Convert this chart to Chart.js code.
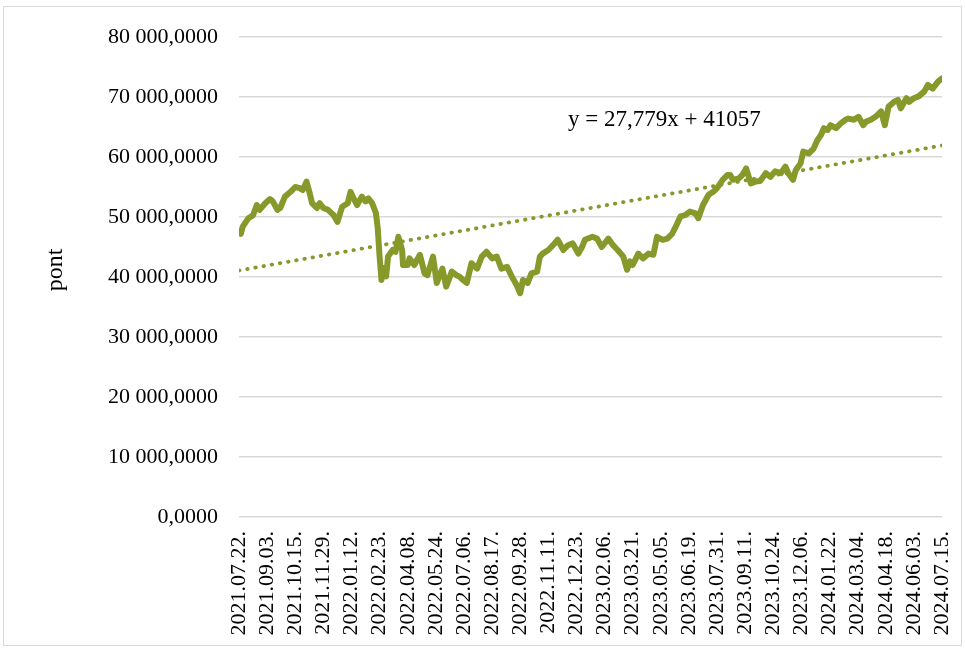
<!DOCTYPE html>
<html>
<head>
<meta charset="utf-8">
<script src="https://cdn.jsdelivr.net/npm/chart.js@4/dist/chart.umd.min.js"></script>
<style>
html,body{margin:0;padding:0;background:#fff;}
#wrap{position:relative;width:965px;height:651px;}
</style>
</head>
<body>
<div id="wrap"><canvas id="c" width="965" height="651"></canvas></div>
<script>
// Tick labels (every 30 trading days)
const tickLabels = ["2021.07.22.","2021.09.03.","2021.10.15.","2021.11.29.","2022.01.12.","2022.02.23.","2022.04.08.","2022.05.24.","2022.07.06.","2022.08.17.","2022.09.28.","2022.11.11.","2022.12.23.","2023.02.06.","2023.03.21.","2023.05.05.","2023.06.19.","2023.07.31.","2023.09.11.","2023.10.24.","2023.12.06.","2024.01.22.","2024.03.04.","2024.04.18.","2024.06.03.","2024.07.15."];
const tickStep = 30;
// Trading-day index of each sample
const days = [0,2,4,10,15,19,22,28,33,36,41,44,49,55,60,65,68,72,75,78,83,86,90,95,101,105,110,116,119,122,126,131,135,138,142,146,148,149,150,152,154,157,159,164,167,170,174,175,180,182,187,193,198,201,207,211,214,217,221,227,232,235,239,243,248,254,259,264,270,275,280,286,291,296,300,303,308,312,318,321,324,330,335,340,346,351,356,362,366,369,377,382,387,394,399,404,410,414,417,420,426,431,437,442,446,452,457,462,465,471,476,481,487,490,495,501,506,510,516,521,524,527,533,537,541,546,551,556,562,567,572,578,583,586,591,594,599,602,608,613,617,621,624,628,631,637,642,647,650,656,661,666,669,674,679,685,689,693,699,703,706,712,715,720,725,731,735,740,746,750];
// Index values (pont)
const pont = [47600,47200,48400,49800,50300,52000,51200,52300,53000,52600,51200,51500,53400,54200,55000,54800,54500,55900,54200,52300,51500,52300,51500,51200,50300,49200,51700,52300,54200,53200,52000,53400,52600,53100,52300,50700,48200,45700,43400,39500,41500,40100,43400,44500,44200,46700,44500,42000,42000,43100,42000,43700,40600,40300,43400,39000,40300,41400,38400,40900,40300,40100,39500,39000,42300,41400,43400,44200,43100,43400,41400,41700,40100,38700,37300,39500,39000,40600,40900,43400,43900,44500,45300,46200,44500,45300,45600,43900,45000,46200,46700,46400,45000,46400,45300,44500,43400,41200,42600,42000,43900,43100,43900,43700,46700,46200,46400,47200,48100,50100,50300,50900,50600,49800,52000,53700,54200,54800,56200,57000,57000,56200,56400,57000,58100,55600,55900,56000,57300,56700,57600,57300,58400,57300,56200,57800,58900,60900,60600,61400,62800,63700,64800,64500,65300,64800,65600,66200,66400,66200,66700,65300,65900,66200,66700,67600,65300,68400,69200,69500,68100,69800,69200,69800,70100,70900,72000,71400,72600,73100];
// Linear trendline shown on the chart: y = 27,779x + 41057 (x = 1..N)
const trendSlope = 27.779;
const trendIntercept = 41057;
const trendLabel = "y = 27,779x + 41057";
const yTitle = "pont";

const lastDay = (tickLabels.length - 1) * tickStep;
const seriesData = days.map((d, i) => ({x: d, y: pont[i]}));
const trendData = [
  {x: 0, y: trendIntercept + trendSlope * 1},
  {x: lastDay, y: trendIntercept + trendSlope * (lastDay + 1)}
];

function fmt(v){
  const s = Math.round(v).toString().replace(/\B(?=(\d{3})+(?!\d))/g, " ");
  return s + ",0000";
}

const FONT = "'Liberation Serif','Times New Roman',serif";

const decor = {
  id: 'decor',
  beforeDraw(chart){
    const ctx = chart.ctx;
    ctx.save();
    ctx.fillStyle = '#fff';
    ctx.fillRect(0,0,chart.width,chart.height);
    ctx.strokeStyle = '#d9d9d9';
    ctx.lineWidth = 1;
    ctx.strokeRect(3.5, 6.5, 958, 639);
    ctx.restore();
  },
  afterDraw(chart){
    const ctx = chart.ctx;
    ctx.save();
    ctx.fillStyle = '#000';
    ctx.font = "23px " + FONT;
    ctx.textBaseline = 'middle';
    ctx.textAlign = 'left';
    ctx.fillText(trendLabel, 568, 120);
    ctx.translate(56, 270);
    ctx.rotate(-Math.PI/2);
    ctx.textAlign = 'center';
    ctx.font = "24px " + FONT;
    ctx.fillText(yTitle, 0, 0);
    ctx.restore();
  }
};

new Chart(document.getElementById('c'), {
  type: 'line',
  data: {
    datasets: [
      {
        data: seriesData,
        borderColor: '#86992A',
        borderWidth: 6,
        pointRadius: 0,
        tension: 0,
        borderJoinStyle: 'round',
        borderCapStyle: 'round',
        fill: false,
        order: 1
      },
      {
        data: trendData,
        borderColor: '#86992A',
        borderWidth: 3.8,
        borderDash: [0.5, 7.8],
        borderCapStyle: 'round',
        pointRadius: 0,
        fill: false,
        order: 2
      }
    ]
  },
  options: {
    responsive: false,
    animation: false,
    devicePixelRatio: 1,
    layout: {padding: {left: 0, right: 23, top: 37, bottom: 0}},
    plugins: {legend: {display: false}, tooltip: {enabled: false}},
    scales: {
      x: {
        type: 'linear',
        min: 0,
        max: lastDay,
        afterBuildTicks(scale){
          scale.ticks = tickLabels.map((_, i) => ({value: i * tickStep}));
        },
        afterFit(scale){ scale.height = 134; scale.paddingLeft = 0; scale.paddingRight = 0; },
        grid: {display: false, drawTicks: false},
        border: {display: false},
        ticks: {
          autoSkip: false,
          minRotation: 90,
          maxRotation: 90,
          padding: 14,
          color: '#000',
          font: {family: FONT, size: 22},
          callback(v){ return tickLabels[Math.round(v / tickStep)]; }
        }
      },
      y: {
        min: 0,
        max: 80000,
        afterFit(scale){ scale.width = 239; },
        grid: {color: '#d9d9d9', lineWidth: 1.5, drawTicks: false},
        border: {display: false},
        ticks: {
          stepSize: 10000,
          padding: 21,
          color: '#000',
          font: {family: FONT, size: 22},
          callback(v){ return fmt(v); }
        }
      }
    }
  },
  plugins: [decor]
});
</script>
</body>
</html>
